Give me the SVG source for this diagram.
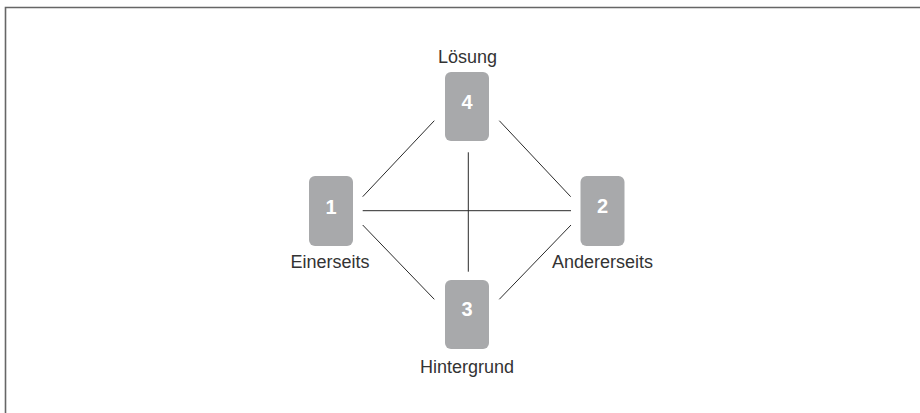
<svg xmlns="http://www.w3.org/2000/svg" width="920" height="413" viewBox="0 0 920 413">
<style>
.box{fill:#a8a9ab}
.num{font-family:"Liberation Sans",Arial,sans-serif;font-weight:bold;font-size:20px;fill:#fff;text-anchor:middle}
.lbl{font-family:"Liberation Sans",Arial,sans-serif;font-size:18px;fill:#333;text-anchor:middle}
.c{stroke:#2a2a2a;stroke-width:1;fill:none}
</style>
<rect width="920" height="413" fill="#fff"/>
<path d="M5.5 413 V7.5 H920" fill="none" stroke="#666" stroke-width="1.6"/>
<g id="connectors">
<line class="c" x1="434.3" y1="120.7" x2="362.7" y2="196.7"/>
<line class="c" x1="499.3" y1="120.7" x2="570.7" y2="196.7"/>
<line class="c" x1="362.7" y1="210.7" x2="571" y2="210.7" stroke="#555" stroke-width="1.3"/>
<line class="c" x1="468.3" y1="152.3" x2="468.3" y2="271.7"/>
<line class="c" x1="362.7" y1="225" x2="434.3" y2="299.3"/>
<line class="c" x1="499.3" y1="299.3" x2="571" y2="225"/>
</g>
<g id="node4">
<rect class="box" x="445" y="72" width="44" height="69" rx="6"/>
<text class="num" x="467" y="108.5">4</text>
<text class="lbl" x="467.5" y="63">Lösung</text>
</g>
<g id="node1">
<rect class="box" x="309" y="176" width="44" height="70" rx="6"/>
<text class="num" x="331" y="213.5">1</text>
<text class="lbl" x="330" y="268">Einerseits</text>
</g>
<g id="node2">
<rect class="box" x="580.5" y="176" width="44" height="70" rx="6"/>
<text class="num" x="602.5" y="213">2</text>
<text class="lbl" x="602.5" y="268">Andererseits</text>
</g>
<g id="node3">
<rect class="box" x="445" y="280" width="44" height="69" rx="6"/>
<text class="num" x="467" y="316">3</text>
<text class="lbl" x="467" y="373">Hintergrund</text>
</g>
</svg>
